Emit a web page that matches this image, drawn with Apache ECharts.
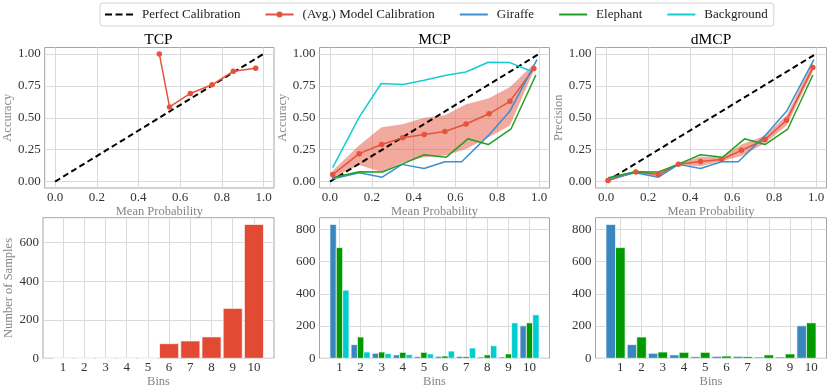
<!DOCTYPE html>
<html><head><meta charset="utf-8">
<script src="https://cdn.jsdelivr.net/npm/echarts@6/dist/echarts.min.js"></script>
<style>html,body{margin:0;padding:0;background:#fff}#c{width:831px;height:390px}</style>
</head><body><div id="c"></div>
<script>
// ---------------- data ----------------
const bins = [1,2,3,4,5,6,7,8,9,10];
const diagX = [0, 1];
const diagY = [0, 1];

const tcpX = [0.50, 0.549, 0.649, 0.753, 0.855, 0.962];
const tcpY = [1.00, 0.585, 0.690, 0.758, 0.864, 0.887];

const mcpAvgX  = [0.013, 0.140, 0.247, 0.348, 0.451, 0.550, 0.651, 0.761, 0.861, 0.975];
const mcpAvgY  = [0.055, 0.219, 0.291, 0.343, 0.369, 0.392, 0.451, 0.531, 0.629, 0.885];
const mcpLow   = [0.030, 0.130, 0.075, 0.150, 0.190, 0.205, 0.255, 0.350, 0.440, 0.870];
const mcpHigh  = [0.085, 0.285, 0.425, 0.450, 0.500, 0.520, 0.605, 0.652, 0.740, 0.920];

const giraffeX    = [0.010, 0.140, 0.250, 0.345, 0.450, 0.550, 0.630, 0.757, 0.860, 0.990];
const giraffeY    = [0.020, 0.070, 0.035, 0.135, 0.102, 0.155, 0.155, 0.360, 0.550, 0.955];
const elephantX   = [0.010, 0.140, 0.250, 0.345, 0.450, 0.555, 0.660, 0.757, 0.865, 0.985];
const elephantY   = [0.030, 0.078, 0.075, 0.137, 0.210, 0.190, 0.335, 0.290, 0.410, 0.835];
const backgroundX = [0.013, 0.140, 0.245, 0.350, 0.450, 0.550, 0.650, 0.757, 0.860, 0.955];
const backgroundY = [0.110, 0.505, 0.768, 0.760, 0.794, 0.830, 0.858, 0.935, 0.932, 0.870];

const dmcpAvgX = [0.010, 0.142, 0.250, 0.345, 0.450, 0.550, 0.645, 0.757, 0.860, 0.985];
const dmcpAvgY = [0.008, 0.076, 0.055, 0.136, 0.158, 0.173, 0.245, 0.330, 0.480, 0.893];
const dmcpLow  = [0.003, 0.070, 0.040, 0.130, 0.120, 0.160, 0.200, 0.300, 0.440, 0.860];
const dmcpHigh = [0.012, 0.082, 0.070, 0.142, 0.195, 0.190, 0.290, 0.360, 0.520, 0.930];

const tcpCounts        = [0, 0, 0, 0, 0, 76, 90, 111, 259, 695];
const giraffeCounts    = [831, 85, 31, 21, 10, 12, 12, 8, 8, 202];
const elephantCounts   = [687, 132, 39, 37, 37, 14, 10, 21, 27, 220];
const backgroundCounts = [423, 39, 29, 23, 27, 45, 64, 78, 220, 270];

const probTicks = [0, 0.2, 0.4, 0.6, 0.8, 1.0];
const accTicks = [0, 0.25, 0.5, 0.75, 1.0];
const tcpCountTicks = [0, 200, 400, 600];
const mcpCountTicks = [0, 200, 400, 600, 800];

// ---------------- style ----------------
const FONT = "'Liberation Serif', 'DejaVu Serif', serif";
const RED = '#e5533d', BAND = 'rgba(229,83,61,0.5)';
const BLUE = '#3d8ed0', GREEN = '#20a020', CYAN = '#14cdd0';
const BAR_RED = '#e24a33', BAR_BLUE = '#3a87c0', BAR_GREEN = '#009a00', BAR_CYAN = '#00cdd0';
const cols = [[43, 274], [319.5, 549.5], [595.5, 826.5]];
const rows = [[47.5, 188], [217.7, 358.3]];

const ICON_DASH = 'path://M0,0h7v2h-7zM10.5,0h7v2h-7zM21,0h7v2h-7z';
const ICON_LINE = 'path://M0,0h28v2h-28z';
const ICON_AVG  = 'path://M0,4h28v2h-28zM11,5a3,3 0 1,1 6,0a3,3 0 1,1 -6,0z';

const zip = (xs, ys) => xs.map((x, i) => [x, ys[i]]);

const grids = [];
rows.forEach(r => cols.forEach(c => grids.push({
  left: c[0], top: r[0], width: c[1] - c[0], height: r[1] - r[0],
  show: true, borderColor: '#a5a5a5', borderWidth: 1, backgroundColor: 'transparent'
})));

function valAxis(gi, min, max, ticks, fmt, name, gap, isY) {
  return {
    type: 'value', gridIndex: gi, min: min, max: max,
    axisLine: {show: false}, axisTick: {show: false, customValues: ticks},
    axisLabel: {customValues: ticks, formatter: fmt, fontFamily: FONT, fontSize: 13, color: '#333', margin: isY ? 4 : 3},
    splitLine: {show: true, lineStyle: {color: '#dadada', width: 1}},
    name: name, nameLocation: 'middle', nameGap: gap,
    nameTextStyle: {fontFamily: FONT, fontSize: 12.5, color: '#858585'}
  };
}
const f1 = v => v.toFixed(1), f2 = v => v.toFixed(2), f0 = v => String(v);

const xAxis = [
  valAxis(0, -0.05, 1.05, probTicks, f1, 'Mean Probability', 15),
  valAxis(1, -0.05, 1.05, probTicks, f1, 'Mean Probability', 15),
  valAxis(2, -0.05, 1.05, probTicks, f1, 'Mean Probability', 15),
  valAxis(3, 0.055, 10.945, bins, f0, 'Bins', 12),
  valAxis(4, 0.055, 10.945, bins, f0, 'Bins', 12),
  valAxis(5, -0.17, 10.72, bins, f0, 'Bins', 12)
];
const yAxis = [
  valAxis(0, -0.05, 1.05, accTicks, f2, 'Accuracy', 26, true),
  valAxis(1, -0.05, 1.05, accTicks, f2, 'Accuracy', 26, true),
  valAxis(2, -0.05, 1.05, accTicks, f2, 'Precision', 26, true),
  valAxis(3, 0, 695 * 1.05, tcpCountTicks, f0, 'Number of Samples', 24, true),
  valAxis(4, 0, 831 * 1.05, mcpCountTicks, f0, '', 0, true),
  valAxis(5, 0, 831 * 1.05, mcpCountTicks, f0, '', 0, true)
];

function diag(gi) {
  return {type: 'line', name: 'Perfect Calibration', xAxisIndex: gi, yAxisIndex: gi,
    data: zip(diagX, diagY), symbol: 'none', silent: true,
    lineStyle: {color: '#000', width: 2, type: [6, 3.5]}, itemStyle: {color: '#000'}};
}
function band(gi, xs, lo, hi) {
  return {type: 'custom', xAxisIndex: gi, yAxisIndex: gi, data: [[xs[0], lo[0]]], silent: true,
    renderItem: (p, api) => {
      const pts = [];
      xs.forEach((x, i) => pts.push(api.coord([x, hi[i]])));
      for (let i = xs.length - 1; i >= 0; i--) pts.push(api.coord([xs[i], lo[i]]));
      return {type: 'polygon', shape: {points: pts}, style: {fill: BAND}};
    }};
}
function avg(gi, xs, ys) {
  return {type: 'line', name: '(Avg.) Model Calibration', xAxisIndex: gi, yAxisIndex: gi,
    data: zip(xs, ys), symbol: 'circle', symbolSize: 5.5, silent: true,
    lineStyle: {color: RED, width: 1.5}, itemStyle: {color: RED}};
}
function cls(gi, name, xs, ys, color) {
  return {type: 'line', name: name, xAxisIndex: gi, yAxisIndex: gi,
    data: zip(xs, ys), symbol: 'none', silent: true,
    lineStyle: {color: color, width: 1.5}, itemStyle: {color: color}};
}
function bars(gi, name, counts, off, w, color) {
  return {type: 'custom', name: name, xAxisIndex: gi, yAxisIndex: gi, silent: true,
    data: zip(bins, counts), encode: {x: 0, y: 1},
    renderItem: (p, api) => {
      const x = api.value(0), y = api.value(1);
      const a = api.coord([x + off - w / 2, y]);
      const b = api.coord([x + off + w / 2, 0]);
      return {type: 'rect', shape: {x: a[0], y: a[1], width: b[0] - a[0], height: b[1] - a[1]},
        style: {fill: color, stroke: 'rgba(255,255,255,0.85)', lineWidth: 0.8}};
    }};
}

const series = [
  diag(0), avg(0, tcpX, tcpY),
  diag(1), band(1, mcpAvgX, mcpLow, mcpHigh), avg(1, mcpAvgX, mcpAvgY),
  cls(1, 'Giraffe', giraffeX, giraffeY, BLUE),
  cls(1, 'Elephant', elephantX, elephantY, GREEN),
  cls(1, 'Background', backgroundX, backgroundY, CYAN),
  diag(2), band(2, dmcpAvgX, dmcpLow, dmcpHigh), avg(2, dmcpAvgX, dmcpAvgY),
  cls(2, 'Giraffe', giraffeX, giraffeY, BLUE),
  cls(2, 'Elephant', elephantX, elephantY, GREEN),
  bars(3, 'TCP samples', tcpCounts, 0, 0.9, BAR_RED),
  bars(4, 'Giraffe samples', giraffeCounts, -0.3, 0.3, BAR_BLUE),
  bars(4, 'Elephant samples', elephantCounts, 0, 0.3, BAR_GREEN),
  bars(4, 'Background samples', backgroundCounts, 0.3, 0.3, BAR_CYAN),
  bars(5, 'Giraffe samples', giraffeCounts, -0.45, 0.45, BAR_BLUE),
  bars(5, 'Elephant samples', elephantCounts, 0, 0.45, BAR_GREEN)
];

const titles = ['TCP', 'MCP', 'dMCP'].map((t, i) => ({
  text: t, left: (cols[i][0] + cols[i][1]) / 2, top: 32, textAlign: 'center', padding: 0,
  textStyle: {fontFamily: FONT, fontSize: 15.5, fontWeight: 'normal', color: '#000'}
}));

const chart = echarts.init(document.getElementById('c'), null, {renderer: 'canvas'});
chart.setOption({
  animation: false,
  backgroundColor: '#fff',
  title: titles,
  legend: {
    left: 100, top: 3, padding: [5, 6, 5, 5], itemGap: 25, itemWidth: 28, itemHeight: 12,
    borderColor: '#d3d3d3', borderWidth: 1, borderRadius: 3, backgroundColor: '#fff',
    textStyle: {fontFamily: FONT, fontSize: 13, color: '#222', padding: [0, 0, 0, 4]},
    data: [
      {name: 'Perfect Calibration', icon: ICON_DASH, itemStyle: {color: '#000'}},
      {name: '(Avg.) Model Calibration', icon: ICON_AVG, itemStyle: {color: RED}},
      {name: 'Giraffe', icon: ICON_LINE, itemStyle: {color: BLUE}},
      {name: 'Elephant', icon: ICON_LINE, itemStyle: {color: GREEN}},
      {name: 'Background', icon: ICON_LINE, itemStyle: {color: CYAN}}
    ]
  },
  grid: grids, xAxis: xAxis, yAxis: yAxis, series: series
});
</script></body></html>
